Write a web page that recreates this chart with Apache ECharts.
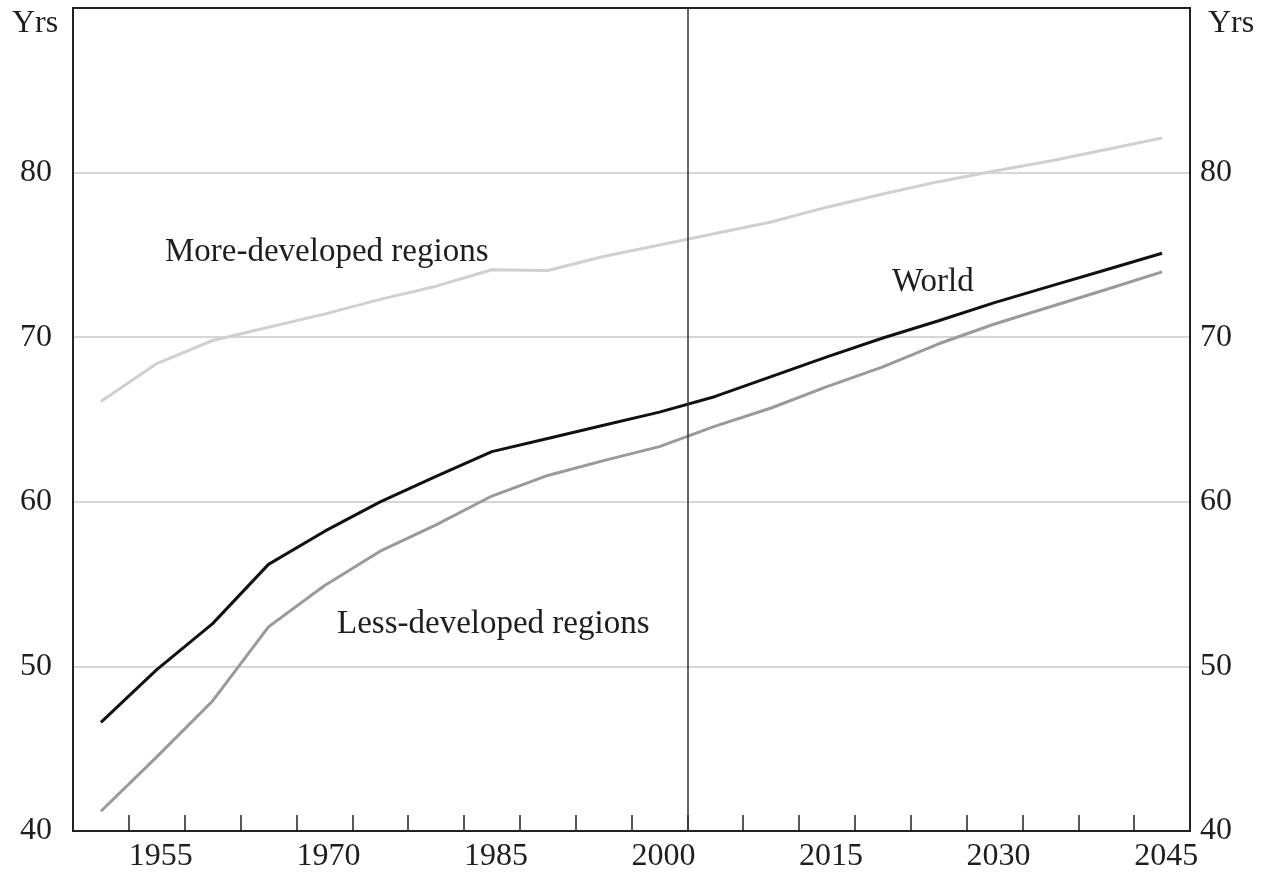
<!DOCTYPE html>
<html lang="en">
<head>
    <meta charset="UTF-8">
    <title>Life expectancy</title>
    <script src="https://cdn.jsdelivr.net/npm/echarts@6/dist/echarts.min.js"></script>
    <style>
        html, body { margin: 0; padding: 0; background: #fff; }
        #main { width: 1267px; height: 873px; }
    </style>
</head>
<body>
<div id="main"></div>
<script type="text/javascript">
    // period midpoints 1950-55 ... 2045-50
    var years = [1952.5, 1957.5, 1962.5, 1967.5, 1972.5, 1977.5, 1982.5, 1987.5, 1992.5, 1997.5,
                 2002.5, 2007.5, 2012.5, 2017.5, 2022.5, 2027.5, 2032.5, 2037.5, 2042.5, 2047.5];
    var moreDeveloped = [66.1, 68.4, 69.8, 70.6, 71.4, 72.3, 73.1, 74.1, 74.05, 74.9,
                         75.6, 76.3, 77.0, 77.9, 78.7, 79.45, 80.1, 80.7, 81.4, 82.1];
    var world = [46.6, 49.8, 52.6, 56.2, 58.2, 60.0, 61.55, 63.05, 63.85, 64.65,
                 65.45, 66.4, 67.6, 68.8, 69.95, 71.0, 72.1, 73.1, 74.1, 75.1];
    var lessDeveloped = [41.2, 44.5, 47.9, 52.4, 54.9, 57.0, 58.6, 60.35, 61.6, 62.5,
                         63.35, 64.6, 65.7, 67.0, 68.2, 69.6, 70.8, 71.85, 72.9, 73.97];
    var xLabelYears = [1955, 1970, 1985, 2000, 2015, 2030, 2045];
    var dividerYear = 2005;

    var font = 'Liberation Serif';
    var fs = 32;     // axis text
    var noteFs = 33; // curve names

    function pairs(v) {
        var out = [];
        for (var i = 0; i < years.length; i++) {
            out.push([years[i], v[i]]);
        }
        return out;
    }

    function note(text, x, y, size) {
        return { type: 'text', left: x, top: y, style: { text: text, font: size + 'px "' + font + '"', fill: '#1e1e1e' } };
    }

    var myChart = echarts.init(document.getElementById('main'));
    myChart.setOption({
        animation: false,
        textStyle: { fontFamily: font },
        grid: { left: 73, right: 77, top: 8, bottom: 41, show: true, borderColor: '#222', borderWidth: 2 },
        xAxis: {
            type: 'value',
            min: 1950,
            max: 2050,
            interval: 5,
            axisLine: { lineStyle: { color: '#222', width: 2 } },
            axisTick: { inside: true, length: 16, lineStyle: { color: '#222', width: 1.5 } },
            splitLine: { show: false },
            axisLabel: {
                fontFamily: font, fontSize: fs, color: '#1e1e1e', align: 'left', margin: 10,
                showMinLabel: false, showMaxLabel: false,
                formatter: function (v) { return xLabelYears.indexOf(v) >= 0 ? String(v) : ''; }
            }
        },
        yAxis: [{
            type: 'value', min: 40, max: 90, interval: 10, position: 'left',
            axisLine: { show: true, lineStyle: { color: '#222', width: 2 } },
            axisTick: { show: false },
            // last split line is the top frame, keep it dark
            splitLine: { lineStyle: { color: ['#222', '#c8c8c8', '#c8c8c8', '#c8c8c8', '#c8c8c8', '#222'], width: 1.5 } },
            axisLabel: {
                fontFamily: font, fontSize: fs, color: '#1e1e1e', margin: 21,
                formatter: function (v) { return v === 90 ? '' : String(v); }
            }
        }, {
            type: 'value', min: 40, max: 90, interval: 10, position: 'right',
            axisLine: { show: true, lineStyle: { color: '#222', width: 2 } },
            axisTick: { show: false },
            splitLine: { show: false },
            axisLabel: {
                fontFamily: font, fontSize: fs, color: '#1e1e1e', margin: 10,
                formatter: function (v) { return v === 90 ? '' : String(v); }
            }
        }],
        series: [{
            name: 'More-developed regions', type: 'line', data: pairs(moreDeveloped),
            showSymbol: false, lineStyle: { color: '#d0d0d0', width: 3 }
        }, {
            name: 'Less-developed regions', type: 'line', data: pairs(lessDeveloped),
            showSymbol: false, lineStyle: { color: '#9a9a9a', width: 3 }
        }, {
            name: 'World', type: 'line', data: pairs(world),
            showSymbol: false, lineStyle: { color: '#111', width: 3 },
            markLine: {
                silent: true, symbol: 'none', label: { show: false },
                lineStyle: { color: '#333', width: 1.5, type: 'solid' },
                data: [{ xAxis: dividerYear }]
            }
        }],
        graphic: [
            note('Yrs', 12, 8, fs),
            note('Yrs', 1208, 8, fs),
            note('More-developed regions', 165, 236, noteFs),
            note('World', 892, 266, noteFs),
            note('Less-developed regions', 337, 608, noteFs)
        ]
    });
</script>
</body>
</html>
